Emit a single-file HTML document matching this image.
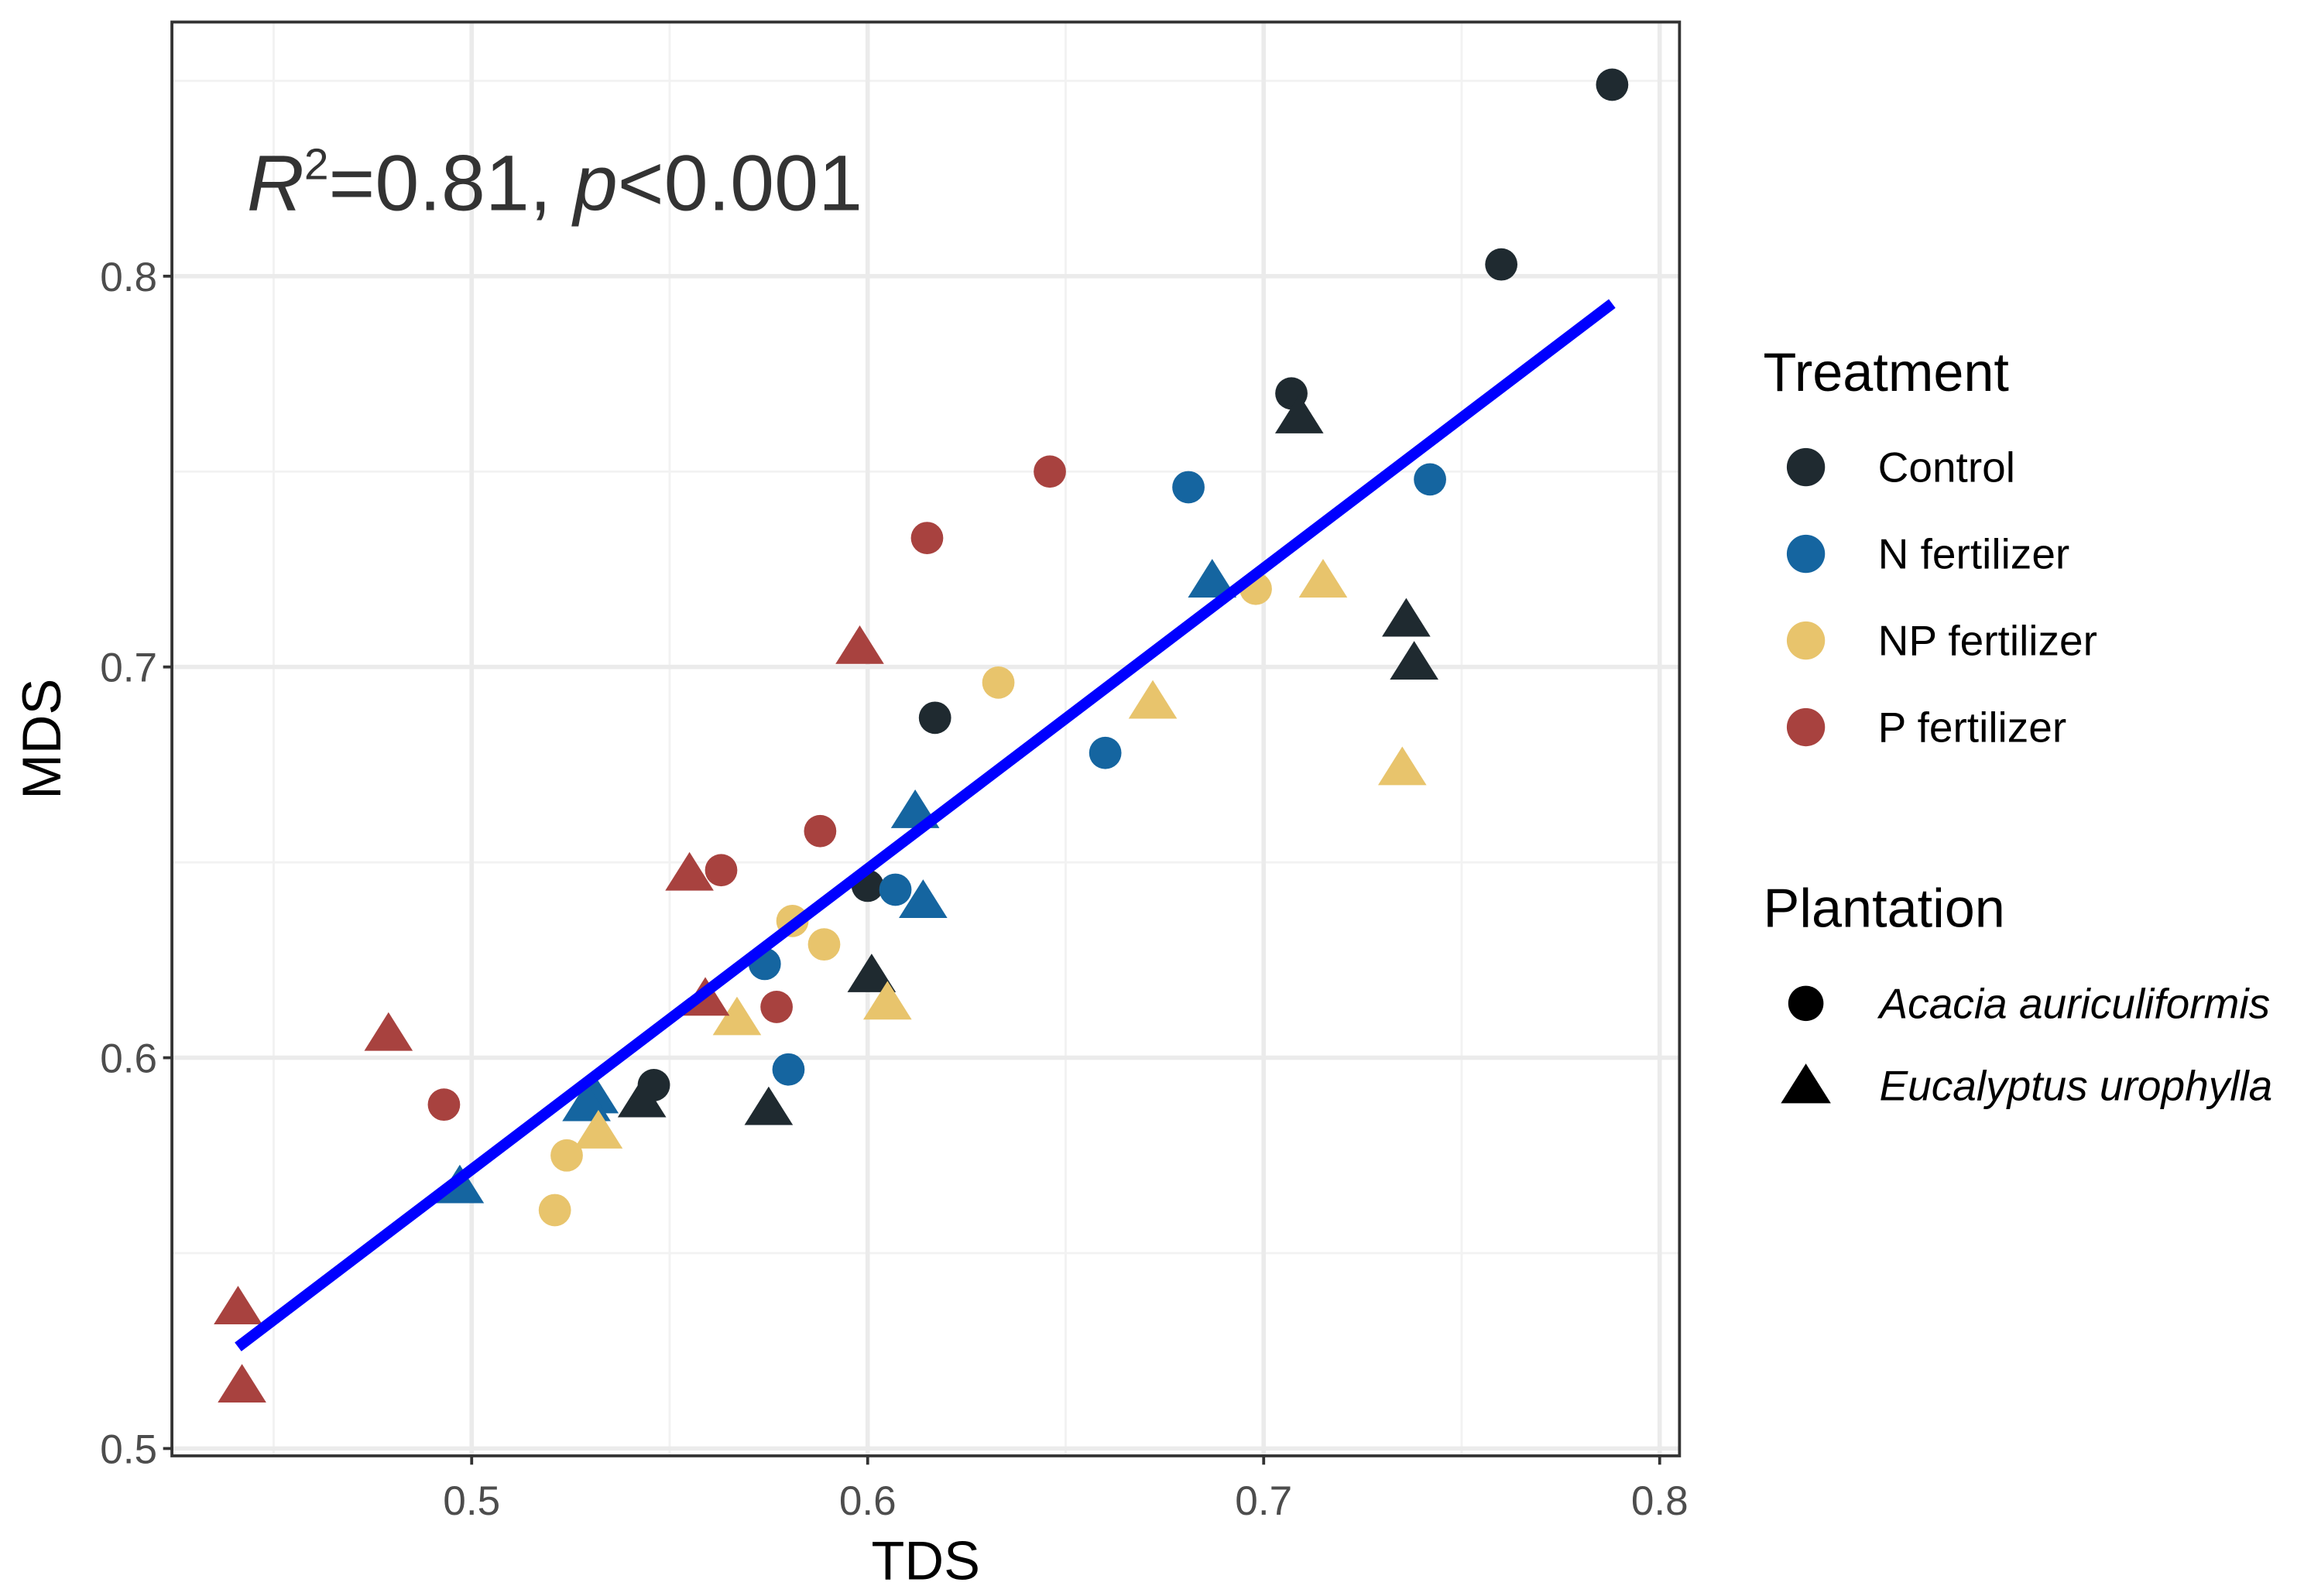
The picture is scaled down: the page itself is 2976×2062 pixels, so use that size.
<!DOCTYPE html>
<html><head><meta charset="utf-8"><style>
html,body{margin:0;padding:0;background:#fff}
svg{display:block}
text{font-family:"Liberation Sans",sans-serif}
</style></head><body>
<svg id="chart" width="2976" height="2062" viewBox="0 0 1568 1086.4" preserveAspectRatio="none" xmlns="http://www.w3.org/2000/svg">
<g id="grid"></g>
<g id="marks"></g>
<g id="axes"></g>
<text x="168" y="143" font-size="54" fill="#333"><tspan font-style="italic">R</tspan><tspan font-size="30" dy="-21">2</tspan><tspan dy="21">=0.81, </tspan><tspan font-style="italic">p</tspan>&lt;0.001</text>
<text x="630" y="1075" font-size="37" text-anchor="middle" fill="#000">TDS</text>
<text x="41" y="503" font-size="37" text-anchor="middle" fill="#000" transform="rotate(-90 41 503)">MDS</text>
<g id="legend">
<text x="1200" y="266" font-size="37" fill="#000">Treatment</text>
<text x="1200" y="631" font-size="37" fill="#000">Plantation</text>
</g>
</svg>
<script>
const xTicks=[0.5,0.6,0.7,0.8];
const yTicks=[0.5,0.6,0.7,0.8];
const xMinor=[0.45,0.55,0.65,0.75];
const yMinor=[0.55,0.65,0.75,0.85];
const groups=["Control","N fertilizer","NP fertilizer","P fertilizer"];
const controlCircleX=[0.788,0.760,0.707,0.617,0.600,0.546];
const controlCircleY=[0.849,0.803,0.770,0.687,0.644,0.593];
const controlTriX=[0.709,0.736,0.738,0.601,0.543,0.575];
const controlTriY=[0.764,0.712,0.701,0.621,0.589,0.587];
const nCircleX=[0.681,0.742,0.660,0.607,0.574,0.580];
const nCircleY=[0.746,0.748,0.678,0.643,0.624,0.597];
const nTriX=[0.687,0.612,0.614,0.531,0.529,0.497];
const nTriY=[0.722,0.663,0.640,0.590,0.588,0.567];
const npCircleX=[0.698,0.633,0.581,0.589,0.524,0.521];
const npCircleY=[0.720,0.696,0.635,0.629,0.575,0.561];
const npTriX=[0.715,0.672,0.735,0.605,0.567,0.532];
const npTriY=[0.722,0.691,0.674,0.614,0.610,0.581];
const pCircleX=[0.646,0.615,0.588,0.563,0.577,0.493];
const pCircleY=[0.750,0.733,0.658,0.648,0.613,0.588];
const pTriX=[0.598,0.555,0.559,0.479,0.441,0.442];
const pTriY=[0.705,0.647,0.615,0.606,0.536,0.516];
const fitX=[0.441,0.788];
const fitY=[0.526,0.793];

const NS="http://www.w3.org/2000/svg";
const L=117,R=1143,T=15,B=991;
const sx=v=>321+(v-0.5)*2695;
const sy=v=>188-(v-0.8)*2660;
const colors=["#1f2a30","#1565a0","#e8c46c","#a8423f"];
function mk(tag,parent,attrs){const e=document.createElementNS(NS,tag);for(const k in attrs)e.setAttribute(k,attrs[k]);parent.appendChild(e);return e;}
const grid=document.getElementById('grid'),marks=document.getElementById('marks'),axes=document.getElementById('axes'),legend=document.getElementById('legend');
mk('rect',grid,{x:L,y:T,width:R-L,height:B-T,fill:'#fff'});
xMinor.forEach(v=>{const e=mk('line',grid,{x1:sx(v),x2:sx(v),y1:T,y2:B,stroke:'#f2f2f2','stroke-width':1.5});

});
yMinor.forEach(v=>{const e=mk('line',grid,{x1:L,x2:R,y1:sy(v),y2:sy(v),stroke:'#f2f2f2','stroke-width':1.5});

});
xTicks.forEach(v=>{const e=mk('line',grid,{x1:sx(v),x2:sx(v),y1:T,y2:B,stroke:'#ebebeb','stroke-width':3});


const t=mk('line',axes,{x1:sx(v),x2:sx(v),y1:B,y2:B+6,stroke:'#333','stroke-width':2});


const l=mk('text',axes,{x:sx(v),y:B+40,'font-size':28,'text-anchor':'middle',fill:'#4d4d4d'});l.textContent=v.toFixed(1);

});
yTicks.forEach(v=>{const e=mk('line',grid,{x1:L,x2:R,y1:sy(v),y2:sy(v),stroke:'#ebebeb','stroke-width':3});


const t=mk('line',axes,{x1:L-6,x2:L,y1:sy(v),y2:sy(v),stroke:'#333','stroke-width':2});


const l=mk('text',axes,{x:L-10,y:sy(v)+10,'font-size':28,'text-anchor':'end',fill:'#4d4d4d'});l.textContent=v.toFixed(1);

});
const border=mk('rect',axes,{x:L,y:T,width:R-L,height:B-T,fill:'none',stroke:'#333','stroke-width':2});


function circle(x,y,c){const e=mk('circle',marks,{cx:x,cy:y,r:11,fill:c});return e;}
function tri(x,y,c,s){s=s||15;const e=mk('polygon',marks,{points:`${x},${y-s} ${x-s*1.1},${y+s*0.75} ${x+s*1.1},${y+s*0.75}`,fill:c});return e;}
const circs=[[controlCircleX,controlCircleY],[nCircleX,nCircleY],[npCircleX,npCircleY],[pCircleX,pCircleY]];
const tris=[[controlTriX,controlTriY],[nTriX,nTriY],[npTriX,npTriY],[pTriX,pTriY]];
for(let g=0;g<4;g++){
 circs[g][0].forEach((x,i)=>{const e=circle(sx(x),sy(circs[g][1][i]),colors[g]);
 
 });
 tris[g][0].forEach((x,i)=>{const e=tri(sx(x),sy(tris[g][1][i]),colors[g]);
 
 });
}
const fit=mk('line',marks,{x1:sx(fitX[0]),y1:sy(fitY[0]),x2:sx(fitX[1]),y2:sy(fitY[1]),stroke:'#0000ff','stroke-width':7.5});


groups.forEach((g,i)=>{const y=318+i*59;
 const k=mk('circle',legend,{cx:1229,cy:y,r:13,fill:colors[i]});
 
 
 const t=mk('text',legend,{x:1278,y:y+10,'font-size':29,fill:'#000'});t.textContent=g;
 
 });
const pl=[["Acacia auriculiformis",683],["Eucalyptus urophylla",739]];
pl.forEach((p,i)=>{
 const k=i==0?mk('circle',legend,{cx:1229,cy:p[1],r:12,fill:'#000'}):mk('polygon',legend,{points:`1229,${p[1]-15} 1212,${p[1]+12} 1246,${p[1]+12}`,fill:'#000'});
 
 
 const t=mk('text',legend,{x:1279,y:p[1]+10,'font-size':29,'font-style':'italic',fill:'#000'});t.textContent=p[0];
 
 });
</script>
</body></html>
